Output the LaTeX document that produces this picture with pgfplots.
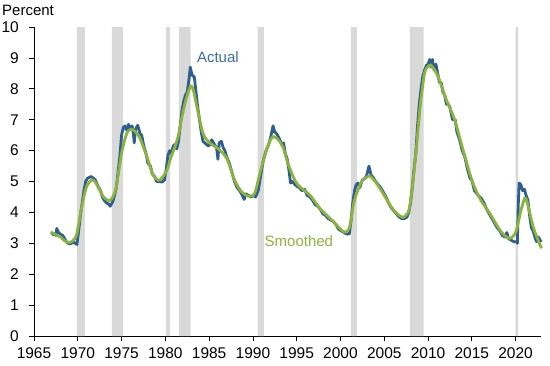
\documentclass[border=0pt]{standalone}
\usepackage{pgfplots}
\pgfplotsset{compat=1.18}
\usepackage{fontspec}
\setmainfont{Liberation Sans}
\definecolor{actualblue}{HTML}{2E5F8F}
\definecolor{actualtext}{HTML}{3A6EA5}
\definecolor{smoothgreen}{HTML}{8CB33C}
\definecolor{recgray}{HTML}{D9D9D9}
\begin{document}
\begin{tikzpicture}[x=1pt,y=1pt]
\path[use as bounding box] (-34,-29) rectangle (516,336);
\begin{axis}[
  at={(0,0)}, anchor=origin,
  scale only axis, width=507pt, height=309pt,
  xmin=1965, xmax=2022.9, ymin=0, ymax=10,
  axis x line*=bottom, axis y line*=left,
  axis line style={black, line width=0.8pt},
  xtick={1965,1970,...,2020}, ytick={0,1,...,10},
  tick align=outside, major tick length=5pt,
  tick style={black, line width=0.8pt},
  /pgf/number format/1000 sep={},
  /pgf/number format/assume math mode=true,
  tick label style={font=\fontsize{15.5}{17}\selectfont, text=black, inner sep=1pt},
  xticklabel style={yshift=-5pt},
  yticklabel style={xshift=-9pt},
  clip=false,
]
% recession bars
\addplot[fill=recgray, draw=none] coordinates {(1969.9,0)(1969.9,10)(1970.8,10)(1970.8,0)} \closedcycle;
\addplot[fill=recgray, draw=none] coordinates {(1973.9,0)(1973.9,10)(1975.15,10)(1975.15,0)} \closedcycle;
\addplot[fill=recgray, draw=none] coordinates {(1980.05,0)(1980.05,10)(1980.55,10)(1980.55,0)} \closedcycle;
\addplot[fill=recgray, draw=none] coordinates {(1981.55,0)(1981.55,10)(1982.9,10)(1982.9,0)} \closedcycle;
\addplot[fill=recgray, draw=none] coordinates {(1990.55,0)(1990.55,10)(1991.25,10)(1991.25,0)} \closedcycle;
\addplot[fill=recgray, draw=none] coordinates {(2001.2,0)(2001.2,10)(2001.87,10)(2001.87,0)} \closedcycle;
\addplot[fill=recgray, draw=none] coordinates {(2007.92,0)(2007.92,10)(2009.5,10)(2009.5,0)} \closedcycle;
\addplot[fill=recgray, draw=none] coordinates {(2020.0,0)(2020.0,10)(2020.3,10)(2020.3,0)} \closedcycle;
% actual
\addplot[actualblue, line width=2.8pt, line join=round, mark=none] coordinates {
(1967.0,3.35)(1967.2,3.28)(1967.4,3.3)(1967.5,3.25)(1967.6,3.48)(1967.8,3.35)(1968.0,3.3)(1968.3,3.25)(1968.5,3.15)(1968.7,3.05)
(1969.0,2.98)(1969.3,3.0)(1969.5,3.05)(1969.7,3.0)(1969.9,2.96)(1970.1,3.4)(1970.3,3.9)(1970.5,4.3)(1970.7,4.7)(1970.9,5.0)
(1971.1,5.1)(1971.4,5.15)(1971.6,5.15)(1971.8,5.1)(1972.0,5.05)(1972.3,4.85)(1972.6,4.7)(1972.8,4.5)(1973.0,4.4)(1973.3,4.3)
(1973.5,4.28)(1973.7,4.2)(1974.0,4.35)(1974.2,4.55)(1974.4,4.8)(1974.6,5.3)(1974.8,5.8)(1975.0,6.5)(1975.2,6.75)(1975.4,6.8)
(1975.6,6.65)(1975.8,6.85)(1976.0,6.7)(1976.2,6.8)(1976.35,6.55)(1976.45,6.25)(1976.6,6.7)(1976.85,6.82)(1977.1,6.55)(1977.3,6.5)
(1977.5,6.2)(1977.8,5.9)(1978.0,5.6)(1978.3,5.5)(1978.5,5.25)(1978.8,5.15)(1979.0,5.0)(1979.3,5.0)(1979.6,4.98)(1979.9,5.05)
(1980.1,5.4)(1980.3,5.85)(1980.5,6.0)(1980.7,5.9)(1980.9,6.15)(1981.1,6.2)(1981.3,6.05)(1981.5,6.3)(1981.7,6.8)(1981.9,7.3)
(1982.1,7.6)(1982.3,7.8)(1982.5,7.9)(1982.7,8.3)(1982.85,8.7)(1983.0,8.5)(1983.15,8.4)(1983.3,8.4)(1983.5,7.9)(1983.7,7.4)
(1983.9,7.0)(1984.1,6.6)(1984.3,6.3)(1984.5,6.25)(1984.7,6.2)(1984.9,6.15)(1985.1,6.2)(1985.3,6.35)(1985.6,6.2)(1985.85,6.1)
(1986.0,5.72)(1986.15,6.25)(1986.4,6.3)(1986.6,6.1)(1986.8,6.0)(1987.0,5.8)(1987.3,5.6)(1987.6,5.3)(1987.9,5.0)(1988.2,4.8)
(1988.5,4.7)(1988.8,4.55)(1989.0,4.42)(1989.2,4.6)(1989.5,4.55)(1989.8,4.5)(1990.0,4.55)(1990.3,4.5)(1990.6,4.7)(1990.9,5.2)
(1991.2,5.7)(1991.5,6.0)(1991.8,6.2)(1992.0,6.4)(1992.3,6.8)(1992.5,6.6)(1992.7,6.55)(1993.0,6.4)(1993.3,6.2)(1993.5,6.25)
(1993.7,5.9)(1993.9,5.75)(1994.1,5.4)(1994.3,4.95)(1994.5,5.0)(1994.8,4.9)(1995.0,4.85)(1995.3,4.8)(1995.6,4.7)(1995.9,4.75)
(1996.2,4.55)(1996.5,4.5)(1996.8,4.4)(1997.1,4.25)(1997.4,4.2)(1997.7,4.1)(1998.0,3.95)(1998.3,3.9)(1998.6,3.8)(1998.9,3.75)
(1999.2,3.7)(1999.5,3.6)(1999.8,3.45)(2000.1,3.4)(2000.4,3.35)(2000.7,3.3)(2001.0,3.3)(2001.2,3.7)(2001.4,4.3)(2001.6,4.7)
(2001.8,4.9)(2002.0,4.95)(2002.2,4.8)(2002.5,5.05)(2002.8,5.1)(2003.0,5.2)(2003.25,5.5)(2003.5,5.2)(2003.7,5.15)(2004.0,5.0)
(2004.3,4.9)(2004.6,4.8)(2004.9,4.65)(2005.2,4.5)(2005.5,4.3)(2005.8,4.15)(2006.1,4.05)(2006.4,3.95)(2006.7,3.85)(2007.0,3.8)
(2007.3,3.8)(2007.6,3.85)(2007.8,4.0)(2008.0,4.3)(2008.2,4.8)(2008.4,5.4)(2008.6,5.9)(2008.8,6.8)(2009.0,7.5)(2009.2,8.0)
(2009.4,8.4)(2009.6,8.6)(2009.8,8.75)(2010.0,8.8)(2010.2,8.95)(2010.35,8.7)(2010.5,8.95)(2010.7,8.6)(2010.9,8.8)(2011.1,8.5)
(2011.3,8.2)(2011.5,8.2)(2011.7,7.9)(2011.9,7.8)(2012.1,7.5)(2012.3,7.5)(2012.5,7.4)(2012.8,7.0)(2013.1,7.0)(2013.3,6.6)
(2013.6,6.35)(2013.9,6.0)(2014.2,5.8)(2014.5,5.4)(2014.8,5.1)(2015.0,5.05)(2015.3,4.7)(2015.6,4.6)(2015.9,4.5)(2016.1,4.45)
(2016.4,4.3)(2016.7,4.1)(2017.0,3.95)(2017.3,3.8)(2017.6,3.65)(2017.9,3.5)(2018.2,3.4)(2018.5,3.25)(2018.8,3.2)(2019.0,3.35)
(2019.2,3.15)(2019.5,3.1)(2019.8,3.05)(2020.1,3.05)(2020.2,3.0)(2020.3,4.2)(2020.4,4.95)(2020.6,4.9)(2020.8,4.7)(2021.0,4.75)
(2021.2,4.55)(2021.4,4.4)(2021.6,3.9)(2021.8,3.5)(2022.0,3.4)(2022.2,3.2)(2022.4,3.05)(2022.6,3.2)(2022.8,3.1)(2022.95,3.05)
};
% smoothed
\addplot[smoothgreen, line width=2.8pt, smooth, tension=0.5, mark=none] coordinates {
(1966.9,3.36)(1967.5,3.28)(1968.0,3.21)(1968.5,3.08)(1969.0,3.02)(1969.5,3.1)(1969.9,3.32)(1970.45,4.18)(1971.0,4.83)(1971.6,5.05)
(1972.0,4.98)(1972.5,4.72)(1973.0,4.48)(1973.6,4.38)(1974.0,4.5)(1974.4,4.83)(1975.0,5.91)(1975.6,6.56)(1976.15,6.69)(1976.6,6.6)
(1977.1,6.4)(1977.9,5.8)(1978.6,5.21)(1979.0,5.08)(1979.4,5.05)(1980.15,5.35)(1980.6,5.75)(1981.1,6.13)(1981.5,6.5)(1981.9,7.1)
(1982.4,7.7)(1982.9,8.09)(1983.2,7.95)(1983.6,7.42)(1984.3,6.56)(1985.1,6.24)(1986.0,6.07)(1987.0,5.75)(1987.9,5.05)(1988.7,4.67)
(1989.5,4.53)(1990.2,4.62)(1990.8,5.27)(1991.55,6.02)(1992.0,6.35)(1992.4,6.45)(1992.9,6.35)(1993.45,6.1)(1994.0,5.59)(1995.0,4.94)
(1996.5,4.56)(1997.65,4.13)(1999.2,3.7)(2000.3,3.38)(2000.8,3.4)(2001.1,3.6)(2001.6,4.4)(2002.4,4.99)(2002.9,5.12)(2003.35,5.18)
(2003.9,5.02)(2004.5,4.78)(2005.8,4.18)(2006.5,3.95)(2007.1,3.84)(2007.5,3.92)(2007.9,4.18)(2008.5,5.59)(2009.1,7.42)(2009.6,8.5)
(2010.0,8.72)(2010.3,8.77)(2010.7,8.62)(2011.15,8.39)(2012.1,7.64)(2013.05,6.99)(2014.0,6.02)(2015.0,5.05)(2015.9,4.46)(2017.05,3.97)
(2018.2,3.43)(2018.8,3.24)(2019.3,3.16)(2019.7,3.22)(2020.1,3.43)(2020.6,4.05)(2021.05,4.46)(2021.3,4.35)(2021.6,4.0)(2022.0,3.54)
(2022.5,3.15)(2022.95,2.84)
};
\node[text=actualtext, font=\fontsize{15}{17}\selectfont] at (axis cs:1986.0,9.03) {Actual};
\node[text=smoothgreen, font=\fontsize{15}{17}\selectfont] at (axis cs:1995.25,3.07) {Smoothed};
\node[anchor=west, font=\fontsize{15}{17}\selectfont, inner sep=0pt] at (axis cs:1965,10) [xshift=-32pt, yshift=17pt] {Percent};
\end{axis}
\end{tikzpicture}
\end{document}
